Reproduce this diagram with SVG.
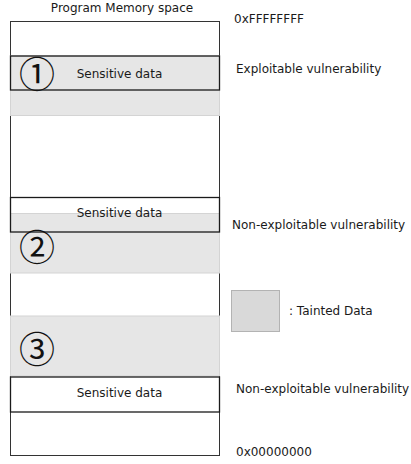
<svg xmlns="http://www.w3.org/2000/svg" width="411" height="464" viewBox="0 0 411 464">
  <style>
    text { font-family: "DejaVu Sans", "Liberation Sans", sans-serif; font-size: 12px; fill: #1a1a1a; }
    .mid { text-anchor: middle; }
    .num { font-family: "Noto Sans CJK JP", "Noto Sans CJK SC", sans-serif; font-size: 36px; text-anchor: middle; fill: #111111; }
    .taint { fill: #e6e6e6; stroke: #d4d4d4; stroke-width: 1; }
    .sens { fill: none; stroke: #1a1a1a; stroke-width: 1.3; }
    .frame { fill: #ffffff; stroke: #333333; stroke-width: 1; }
  </style>
  <rect width="411" height="464" fill="#ffffff"/>

  <text class="mid" x="122" y="12">Program Memory space</text>

  <g id="memory">
    <rect class="frame" x="10.5" y="21.5" width="209" height="434"/>
  </g>

  <g id="tainted-regions">
    <rect class="taint" x="10.5" y="56" width="209" height="59.5"/>
    <rect class="taint" x="10.5" y="213.5" width="209" height="59.5"/>
    <rect class="taint" x="10.5" y="316" width="209" height="60"/>
  </g>

  <g id="case1">
    <text class="num" x="37" y="88">①</text>
    <rect class="sens" x="10.5" y="56" width="209" height="34"/>
    <text class="mid" x="119.5" y="78">Sensitive data</text>
  </g>

  <g id="case2">
    <rect class="sens" x="10.5" y="197.5" width="209" height="34.5"/>
    <text class="mid" x="119.5" y="217">Sensitive data</text>
    <text class="num" x="37" y="261">②</text>
  </g>

  <g id="case3">
    <rect class="sens" x="10.5" y="377" width="209" height="35"/>
    <text class="mid" x="119.5" y="397">Sensitive data</text>
    <text class="num" x="37" y="363">③</text>
  </g>

  <g id="labels">
    <text x="234" y="23">0xFFFFFFFF</text>
    <text x="236" y="73">Exploitable vulnerability</text>
    <text x="232" y="229">Non-exploitable vulnerability</text>
    <text x="236" y="393">Non-exploitable vulnerability</text>
    <text x="236" y="456">0x00000000</text>
  </g>

  <g id="legend">
    <rect x="231.5" y="290.5" width="48" height="41" fill="#d9d9d9" stroke="#b3b3b3"/>
    <text x="289" y="315">: Tainted Data</text>
  </g>
</svg>
